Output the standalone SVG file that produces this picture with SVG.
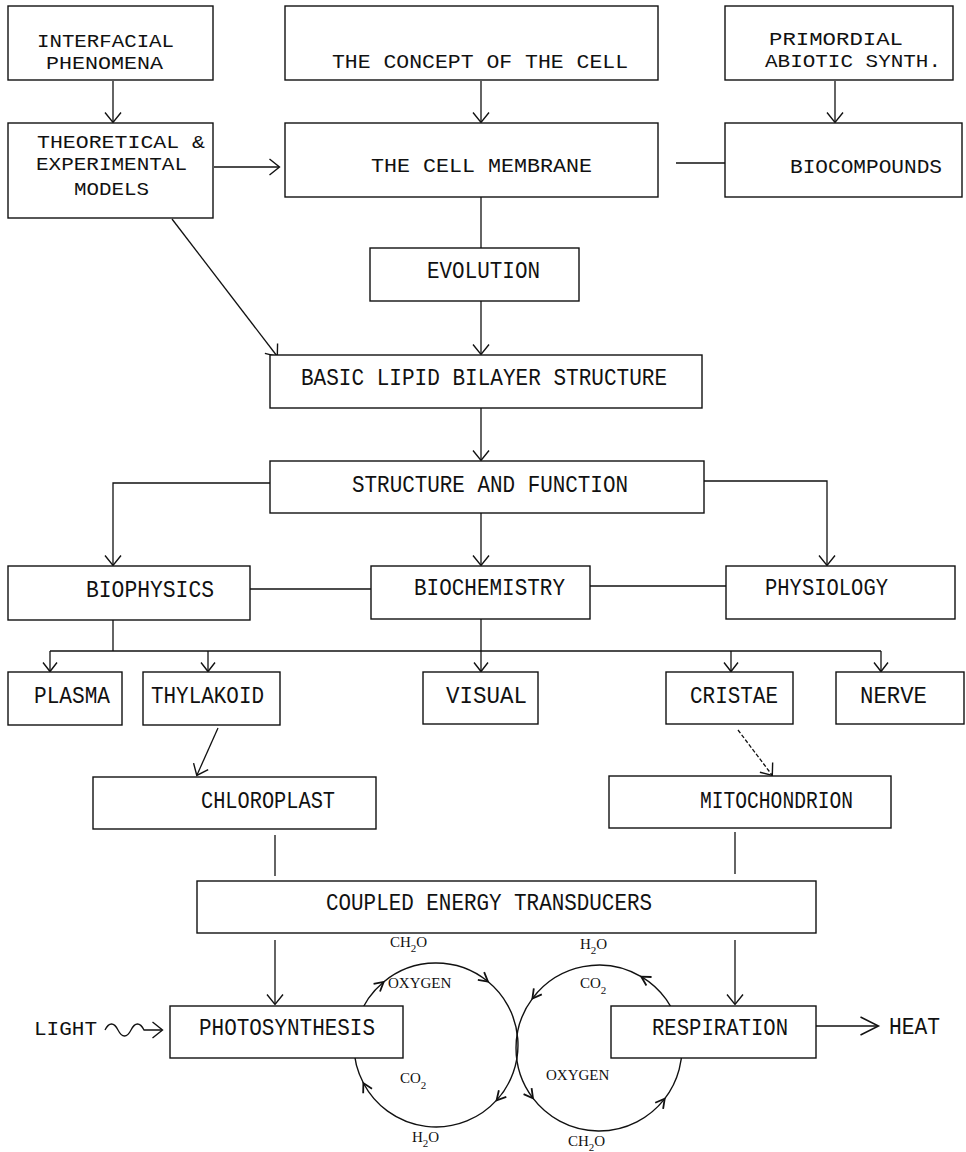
<svg xmlns="http://www.w3.org/2000/svg" width="966" height="1152" viewBox="0 0 966 1152">
<style>
.box{fill:#fff;stroke:#111;stroke-width:1.4}
.t{font-family:"Liberation Mono","DejaVu Sans Mono",monospace;font-size:23px;fill:#111}
.ts{font-size:20px}
.tx{font-size:18.5px}
.c{fill:none;stroke:#111;stroke-width:1.3}
.cy{fill:none;stroke:#111;stroke-width:1.4}
.s{font-family:"Liberation Serif","Times New Roman",serif;font-size:15px;fill:#111}
</style>
<defs>
<marker id="ah" viewBox="0 0 10 16" markerWidth="10" markerHeight="16" refX="9.5" refY="8" orient="auto" markerUnits="userSpaceOnUse" overflow="visible"><path d="M0,0 L10,8 L0,16" fill="none" stroke="#111" stroke-width="1.4"/></marker>
<marker id="ahs" viewBox="0 0 9 14" markerWidth="9" markerHeight="14" refX="8.5" refY="7" orient="auto" markerUnits="userSpaceOnUse" overflow="visible"><path d="M0,0 L9,7 L0,14" fill="none" stroke="#111" stroke-width="1.4"/></marker>
<marker id="ahb" viewBox="0 0 18 18" markerWidth="18" markerHeight="18" refX="17.5" refY="9" orient="auto" markerUnits="userSpaceOnUse" overflow="visible"><path d="M0,0 L18,9 L0,18" fill="none" stroke="#111" stroke-width="1.5"/></marker>
<marker id="ahc" viewBox="0 0 9 10" markerWidth="9" markerHeight="10" refX="8.5" refY="5" orient="auto" markerUnits="userSpaceOnUse" overflow="visible"><path d="M0,0 L9,5 L0,10" fill="none" stroke="#111" stroke-width="1.8"/></marker>
</defs>

<g id="connectors">
<line class="c" x1="113" y1="81" x2="113" y2="122" marker-end="url(#ah)"/>
<line class="c" x1="481" y1="81" x2="481" y2="122" marker-end="url(#ah)"/>
<line class="c" x1="835" y1="81" x2="835" y2="122" marker-end="url(#ah)"/>
<line class="c" x1="214" y1="167" x2="279" y2="167" marker-end="url(#ah)"/>
<line class="c" x1="676" y1="163" x2="725" y2="163"/>
<line class="c" x1="481" y1="197" x2="481" y2="248"/>
<line class="c" x1="172" y1="219" x2="277" y2="356" marker-end="url(#ah)"/>
<line class="c" x1="481" y1="301" x2="481" y2="354" marker-end="url(#ah)"/>
<line class="c" x1="481" y1="408" x2="481" y2="460" marker-end="url(#ah)"/>
<polyline class="c" points="270,483 113,483 113,565" marker-end="url(#ah)"/>
<line class="c" x1="481" y1="513" x2="481" y2="565" marker-end="url(#ah)"/>
<polyline class="c" points="704,481 827,481 827,565" marker-end="url(#ah)"/>
<line class="c" x1="250" y1="589" x2="371" y2="589"/>
<line class="c" x1="590" y1="586" x2="726" y2="586"/>
<line class="c" x1="113" y1="620" x2="113" y2="651"/>
<line class="c" x1="481" y1="619" x2="481" y2="651"/>
<line class="c" x1="50" y1="651" x2="881" y2="651"/>
<line class="c" x1="50" y1="651" x2="50" y2="671" marker-end="url(#ahs)"/>
<line class="c" x1="208" y1="651" x2="208" y2="671" marker-end="url(#ahs)"/>
<line class="c" x1="481" y1="651" x2="481" y2="671" marker-end="url(#ahs)"/>
<line class="c" x1="731" y1="651" x2="731" y2="671" marker-end="url(#ahs)"/>
<line class="c" x1="881" y1="651" x2="881" y2="671" marker-end="url(#ahs)"/>
<line class="c" x1="218" y1="728" x2="197" y2="775" marker-end="url(#ah)"/>
<line class="c" x1="738" y1="730" x2="772" y2="775" stroke-dasharray="4 2" marker-end="url(#ah)"/>
<line class="c" x1="275" y1="835" x2="275" y2="876"/>
<line class="c" x1="735" y1="832" x2="735" y2="874"/>
<line class="c" x1="275" y1="940" x2="275" y2="1004" marker-end="url(#ah)"/>
<line class="c" x1="735" y1="940" x2="735" y2="1004" marker-end="url(#ah)"/>
<path class="c" d="M105,1030 c4,-8 9,-8 13,0 s9,8 13,0 s9,-8 13,0 L162,1030" marker-end="url(#ah)"/>
<line class="c" x1="816" y1="1026" x2="878" y2="1026" marker-end="url(#ahb)"/>
<path class="cy" d="M363.6,1083.5 A82,82 0 0 1 383.3,982.2" marker-end="url(#ahc)"/>
<path class="cy" d="M383.3,982.2 A82,82 0 0 1 487.6,981.3" marker-end="url(#ahc)"/>
<path class="cy" d="M487.6,981.3 A82,82 0 0 1 496.9,1099.9" marker-end="url(#ahc)"/>
<path class="cy" d="M496.9,1099.9 A82,82 0 0 1 363.6,1083.5" marker-end="url(#ahc)"/>
<path class="cy" d="M641.7,976.9 A83,83 0 0 0 532.7,998.1" marker-end="url(#ahc)"/>
<path class="cy" d="M532.7,998.1 A83,83 0 0 0 532.7,1097.9" marker-end="url(#ahc)"/>
<path class="cy" d="M532.7,1097.9 A83,83 0 0 0 664.4,1099.1" marker-end="url(#ahc)"/>
<path class="cy" d="M664.4,1099.1 A83,83 0 0 0 641.7,976.9" marker-end="url(#ahc)"/>
</g>

<g id="n-interfacial"><rect class="box" x="8" y="6" width="205" height="74"/>
<text class="t tx" x="37" y="47" textLength="137" lengthAdjust="spacingAndGlyphs">INTERFACIAL</text>
<text class="t tx" x="46" y="69" textLength="117" lengthAdjust="spacingAndGlyphs">PHENOMENA</text></g>
<g id="n-concept"><rect class="box" x="285" y="6" width="373" height="74"/>
<text class="t ts" x="332" y="68" textLength="296" lengthAdjust="spacingAndGlyphs">THE CONCEPT OF THE CELL</text></g>
<g id="n-primordial"><rect class="box" x="725" y="6" width="228" height="74"/>
<text class="t tx" x="769" y="45" textLength="134" lengthAdjust="spacingAndGlyphs">PRIMORDIAL</text>
<text class="t tx" x="765" y="67" textLength="176" lengthAdjust="spacingAndGlyphs">ABIOTIC SYNTH.</text></g>
<g id="n-models"><rect class="box" x="8" y="123" width="205" height="95"/>
<text class="t tx" x="37" y="148" textLength="168" lengthAdjust="spacingAndGlyphs">THEORETICAL &amp;</text>
<text class="t tx" x="36" y="170" textLength="151" lengthAdjust="spacingAndGlyphs">EXPERIMENTAL</text>
<text class="t tx" x="74" y="195" textLength="75" lengthAdjust="spacingAndGlyphs">MODELS</text></g>
<g id="n-membrane"><rect class="box" x="285" y="123" width="373" height="74"/>
<text class="t ts" x="371" y="172" textLength="221" lengthAdjust="spacingAndGlyphs">THE CELL MEMBRANE</text></g>
<g id="n-biocompounds"><rect class="box" x="725" y="123" width="237" height="74"/>
<text class="t ts" x="790" y="173" textLength="152" lengthAdjust="spacingAndGlyphs">BIOCOMPOUNDS</text></g>
<g id="n-evolution"><rect class="box" x="370" y="248" width="209" height="53"/>
<text class="t" x="427" y="278" textLength="113" lengthAdjust="spacingAndGlyphs">EVOLUTION</text></g>
<g id="n-bilayer"><rect class="box" x="270" y="355" width="432" height="53"/>
<text class="t" x="301" y="385" textLength="366" lengthAdjust="spacingAndGlyphs">BASIC LIPID BILAYER STRUCTURE</text></g>
<g id="n-structure"><rect class="box" x="270" y="461" width="434" height="52"/>
<text class="t" x="352" y="492" textLength="276" lengthAdjust="spacingAndGlyphs">STRUCTURE AND FUNCTION</text></g>
<g id="n-biophysics"><rect class="box" x="8" y="566" width="242" height="54"/>
<text class="t" x="86" y="597" textLength="128" lengthAdjust="spacingAndGlyphs">BIOPHYSICS</text></g>
<g id="n-biochemistry"><rect class="box" x="371" y="566" width="219" height="53"/>
<text class="t" x="414" y="595" textLength="151" lengthAdjust="spacingAndGlyphs">BIOCHEMISTRY</text></g>
<g id="n-physiology"><rect class="box" x="726" y="566" width="229" height="53"/>
<text class="t" x="765" y="595" textLength="123" lengthAdjust="spacingAndGlyphs">PHYSIOLOGY</text></g>
<g id="n-plasma"><rect class="box" x="8" y="672" width="114" height="53"/>
<text class="t" x="34" y="703" textLength="76" lengthAdjust="spacingAndGlyphs">PLASMA</text></g>
<g id="n-thylakoid"><rect class="box" x="143" y="672" width="137" height="53"/>
<text class="t" x="151" y="703" textLength="113" lengthAdjust="spacingAndGlyphs">THYLAKOID</text></g>
<g id="n-visual"><rect class="box" x="423" y="672" width="115" height="52"/>
<text class="t" x="446" y="703" textLength="81" lengthAdjust="spacingAndGlyphs">VISUAL</text></g>
<g id="n-cristae"><rect class="box" x="666" y="672" width="127" height="52"/>
<text class="t" x="690" y="703" textLength="88" lengthAdjust="spacingAndGlyphs">CRISTAE</text></g>
<g id="n-nerve"><rect class="box" x="836" y="672" width="128" height="52"/>
<text class="t" x="860" y="703" textLength="67" lengthAdjust="spacingAndGlyphs">NERVE</text></g>
<g id="n-chloroplast"><rect class="box" x="93" y="777" width="283" height="52"/>
<text class="t" x="201" y="808" textLength="134" lengthAdjust="spacingAndGlyphs">CHLOROPLAST</text></g>
<g id="n-mitochondrion"><rect class="box" x="609" y="776" width="282" height="52"/>
<text class="t" x="700" y="808" textLength="153" lengthAdjust="spacingAndGlyphs">MITOCHONDRION</text></g>
<g id="n-coupled"><rect class="box" x="197" y="881" width="619" height="52"/>
<text class="t" x="326" y="910" textLength="326" lengthAdjust="spacingAndGlyphs">COUPLED ENERGY TRANSDUCERS</text></g>
<g id="n-photosynthesis"><rect class="box" x="170" y="1006" width="233" height="52"/>
<text class="t" x="199" y="1035" textLength="176" lengthAdjust="spacingAndGlyphs">PHOTOSYNTHESIS</text></g>
<g id="n-respiration"><rect class="box" x="611" y="1006" width="205" height="52"/>
<text class="t" x="652" y="1035" textLength="136" lengthAdjust="spacingAndGlyphs">RESPIRATION</text></g>
<g id="n-light"><text class="t ts" x="34" y="1035" textLength="63" lengthAdjust="spacingAndGlyphs">LIGHT</text></g>
<g id="n-heat"><text class="t" x="889" y="1034" textLength="51" lengthAdjust="spacingAndGlyphs">HEAT</text></g>

<g id="cycle-labels">
<text class="s" x="390" y="947">CH<tspan dy="5" font-size="11">2</tspan><tspan dy="-5">O</tspan></text>
<text class="s" x="388" y="988">OXYGEN</text>
<text class="s" x="400" y="1083">CO<tspan dy="6" font-size="11">2</tspan></text>
<text class="s" x="412" y="1142">H<tspan dy="5" font-size="11">2</tspan><tspan dy="-5">O</tspan></text>
<text class="s" x="580" y="949">H<tspan dy="5" font-size="11">2</tspan><tspan dy="-5">O</tspan></text>
<text class="s" x="580" y="988">CO<tspan dy="6" font-size="11">2</tspan></text>
<text class="s" x="546" y="1080">OXYGEN</text>
<text class="s" x="568" y="1146">CH<tspan dy="5" font-size="11">2</tspan><tspan dy="-5">O</tspan></text>
</g>
</svg>
